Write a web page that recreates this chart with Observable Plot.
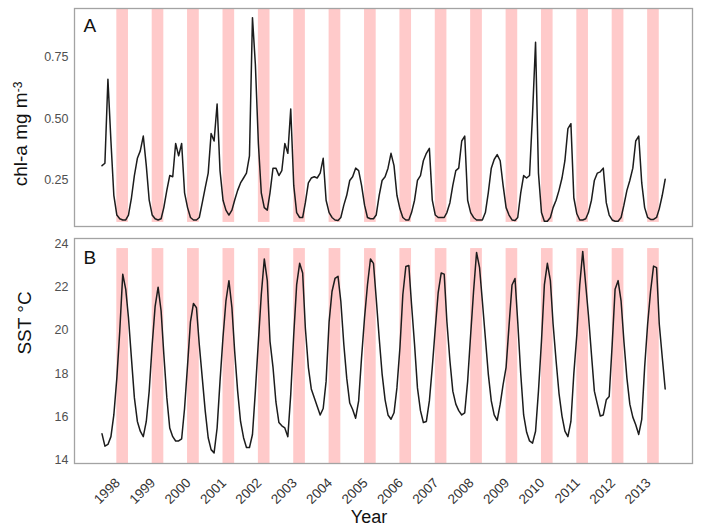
<!DOCTYPE html>
<html><head><meta charset="utf-8">
<script src="https://cdn.jsdelivr.net/npm/d3@7"></script>
<script src="https://cdn.jsdelivr.net/npm/@observablehq/plot@0.6"></script>
<style>
html,body{margin:0;padding:0;background:#fff;}
#chart{position:relative;width:701px;height:528px;overflow:hidden;font-family:"Liberation Sans",Arial,sans-serif;}
#chart > svg{display:block;}
#titles{position:absolute;left:0;top:0;pointer-events:none;}
</style></head><body><div id="chart"></div>
<script>
// monthly series, first value = June 1997
const startYear = 1997, startMonth = 6;
const years = [1998,1999,2000,2001,2002,2003,2004,2005,2006,2007,2008,2009,2010,2011,2012,2013];
const chl = [
0.31,0.32,0.66,0.41,0.19,0.11,0.095,0.09,0.09,0.11,
0.18,0.27,0.34,0.37,0.43,0.31,0.17,0.11,0.095,0.09,
0.095,0.14,0.21,0.27,0.265,0.40,0.35,0.40,0.20,0.14,
0.10,0.09,0.09,0.10,0.16,0.22,0.28,0.44,0.41,0.56,
0.29,0.17,0.13,0.11,0.13,0.17,0.21,0.24,0.26,0.28,
0.35,0.91,0.72,0.40,0.20,0.14,0.13,0.20,0.30,0.30,
0.27,0.29,0.40,0.36,0.54,0.23,0.12,0.10,0.10,0.16,
0.24,0.26,0.265,0.26,0.28,0.34,0.17,0.12,0.10,0.09,
0.088,0.10,0.15,0.19,0.25,0.265,0.30,0.29,0.23,0.15,
0.10,0.095,0.095,0.11,0.19,0.25,0.265,0.30,0.36,0.31,
0.19,0.135,0.10,0.09,0.09,0.12,0.17,0.25,0.27,0.33,
0.36,0.38,0.17,0.11,0.10,0.10,0.10,0.12,0.16,0.23,
0.29,0.30,0.41,0.43,0.17,0.12,0.10,0.09,0.09,0.09,
0.12,0.20,0.30,0.335,0.355,0.33,0.23,0.14,0.11,0.09,
0.088,0.10,0.20,0.27,0.26,0.27,0.52,0.81,0.28,0.12,
0.085,0.085,0.10,0.14,0.17,0.21,0.26,0.33,0.46,0.48,
0.18,0.115,0.09,0.09,0.095,0.12,0.17,0.25,0.28,0.285,
0.30,0.16,0.11,0.09,0.085,0.085,0.10,0.15,0.21,0.25,
0.30,0.41,0.43,0.24,0.14,0.10,0.092,0.092,0.10,0.135,
0.19,0.255];
const sst = [
15.23,14.66,14.74,15.1,16.1,17.8,19.95,22.6,21.9,20.6,
18.7,16.9,15.8,15.35,15.1,15.8,17.2,19.35,21.1,22.0,
20.9,18.9,16.9,15.5,15.1,14.9,14.9,15.0,16.4,18.4,
20.4,21.25,21.05,19.35,17.8,16.3,15.05,14.5,14.35,15.5,
17.65,19.7,21.35,22.3,21.05,19.05,17.2,15.8,15.05,14.6,
14.6,15.2,17.2,19.5,21.65,23.3,22.3,19.5,18.3,16.7,
15.75,15.6,15.5,15.1,17.05,19.8,22.1,23.1,22.65,20.1,
18.3,17.3,16.9,16.5,16.1,16.4,17.65,20.4,21.8,22.4,
22.5,21.35,19.35,17.8,16.65,16.35,15.95,16.75,18.75,20.6,
22.1,23.3,23.1,21.5,19.65,18.0,16.8,16.1,15.9,16.2,
17.35,19.2,21.65,22.95,23.0,21.2,19.35,17.35,16.3,15.75,
15.8,16.75,18.3,20.1,21.75,22.65,22.6,20.4,18.6,17.2,
16.6,16.3,16.1,16.2,17.65,19.8,21.8,23.6,22.9,21.35,
19.65,18.0,16.75,16.1,15.85,16.6,17.5,18.3,20.2,22.1,
22.4,20.4,18.0,16.1,15.3,14.9,14.8,15.35,17.2,19.5,
22.1,23.1,22.3,20.3,18.6,17.1,16.05,15.35,15.1,15.8,
18.0,19.8,22.1,23.65,22.1,20.7,18.9,17.2,16.6,16.05,
16.1,16.8,16.95,19.35,21.9,22.3,21.35,19.5,17.8,16.6,
16.0,15.65,15.2,15.9,18.3,20.3,21.8,22.97,22.9,20.3,
18.75,17.3];
const chlTicks = [0.25, 0.50, 0.75];
const sstTicks = [14, 16, 18, 20, 22, 24];
const chlDomain = [0.0635, 0.947];
const sstDomain = [13.86, 24.245];
const chlBand = [0.08, 0.947];
const sstBand = [13.86, 23.78];

const rows = chl.map((v, i) => ({date: new Date(Date.UTC(startYear, startMonth - 1 + i, 1)), chl: v, sst: sst[i]}));
const bands = years.map(y => ({x1: new Date(Date.UTC(y - 1, 10, 1)), x2: new Date(Date.UTC(y, 2, 1))}));
const xDomain = [new Date(Date.UTC(1996, 7, 21)), new Date(Date.UTC(2014, 1, 7))];
const tickDates = years.map(y => new Date(Date.UTC(y, 0, 1)));

const baseStyle = {fontFamily: "Liberation Sans, Arial, sans-serif", fontSize: "12.5px", color: "#505050", background: "transparent", overflow: "visible"};
const bandFill = "#ffcaca";
const lineColor = "#1c1c1c";
const frameColor = "#a3a3a3";

const plotA = Plot.plot({
  width: 701, height: 228, marginLeft: 74, marginRight: 9, marginTop: 8, marginBottom: 2,
  style: baseStyle,
  x: {type: "utc", domain: xDomain, axis: null},
  y: {domain: chlDomain, ticks: chlTicks, tickFormat: d3.format(".2f"), tickSize: 0, tickPadding: 6, label: null},
  marks: [
    Plot.rect(bands.map(b => ({...b, y1: chlBand[0], y2: chlBand[1]})), {x1: "x1", x2: "x2", y1: "y1", y2: "y2", fill: bandFill}),
    Plot.line(rows, {x: "date", y: "chl", stroke: lineColor, strokeWidth: 1.5}),
    Plot.frame({stroke: frameColor, strokeWidth: 1.3}),
    Plot.text(["A"], {text: d => d, frameAnchor: "top-left", dx: 9, dy: 10, fontSize: 19, fill: "#111"})
  ]
});

const plotB = Plot.plot({
  width: 701, height: 300, marginLeft: 74, marginRight: 9, marginTop: 10, marginBottom: 65,
  style: baseStyle,
  x: {type: "utc", domain: xDomain, label: null},
  y: {domain: sstDomain, ticks: sstTicks, tickSize: 0, tickPadding: 6, label: null},
  marks: [
    Plot.rect(bands.map(b => ({...b, y1: sstBand[0], y2: sstBand[1]})), {x1: "x1", x2: "x2", y1: "y1", y2: "y2", fill: bandFill}),
    Plot.line(rows, {x: "date", y: "sst", stroke: lineColor, strokeWidth: 1.5}),
    Plot.frame({stroke: frameColor, strokeWidth: 1.3}),
    Plot.axisX(tickDates, {tickFormat: d3.utcFormat("%Y"), tickRotate: -45, tickSize: 0, tickPadding: 17, dx: -5, fontSize: 13.5, fill: "#333", label: null}),
    Plot.text(["B"], {text: d => d, frameAnchor: "top-left", dx: 9, dy: 12, fontSize: 19, fill: "#111"})
  ]
});

const chart = document.getElementById("chart");
chart.appendChild(plotA);
chart.appendChild(plotB);

// axis titles
const t = d3.select(chart).append("svg").attr("id", "titles").attr("width", 701).attr("height", 528)
  .style("font-family", "Liberation Sans, Arial, sans-serif").attr("fill", "#111");
const chlTitle = t.append("text").attr("transform", "translate(27,134) rotate(-90)").attr("text-anchor", "middle").attr("font-size", 19);
chlTitle.append("tspan").text("chl-a mg m");
chlTitle.append("tspan").attr("dy", "-0.45em").attr("font-size", 12).text("-3");
t.append("text").attr("transform", "translate(31,323) rotate(-90)").attr("text-anchor", "middle").attr("font-size", 19).text("SST °C");
t.append("text").attr("x", 369).attr("y", 523).attr("text-anchor", "middle").attr("font-size", 18).text("Year");
</script></body></html>
